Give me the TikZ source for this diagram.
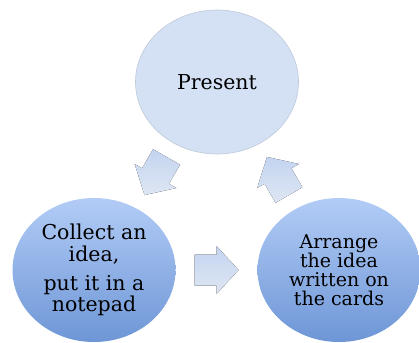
\documentclass[tikz,border=0pt]{standalone}
\usepackage{fontspec}
\setmainfont{DejaVu Serif}
\usetikzlibrary{shapes.geometric,calc}
\definecolor{pfill}{HTML}{D4E1F4}
\definecolor{pline}{HTML}{BDC9DA}
\definecolor{ctop}{HTML}{B2CCF6}
\definecolor{cbot}{HTML}{6E96D6}
\definecolor{atop}{HTML}{C4D4F0}
\definecolor{abot}{HTML}{DDE6F3}
\tikzset{flowarrow/.pic={
  \fill [top color=atop, bottom color=abot] (-22,-15.5) -- (0,-15.5) -- (0,-24) -- (22,0) -- (0,24) -- (0,15.5) -- (-22,15.5) -- cycle;
}}
\begin{document}
\begin{tikzpicture}[x=1pt,y=-1pt]
\tikzstyle{bubble}=[ellipse, minimum width=163pt, minimum height=144pt, inner sep=0pt, align=center]
\useasboundingbox (0,0) rectangle (419,342);

\node [bubble, fill=pfill, draw=pline, line width=0.6pt, font=\fontsize{20.5}{22}\selectfont] (present) at (217,82) {Present};
\node [bubble, top color=ctop, bottom color=cbot, font=\fontsize{20.5}{21.5}\selectfont] (collect) at (94,270) {Collect an\\idea,\\[7.5pt]put it in a\\notepad};
\node [bubble, top color=ctop, bottom color=cbot, font=\fontsize{19}{19}\selectfont] (arrange) at (339,270) {Arrange\\the idea\\written on\\the cards};

\pic [rotate=-120] at ($(present)!0.5!(collect)$) {flowarrow};
\pic at ($(collect)!0.5!(arrange)$) {flowarrow};
\pic [rotate=120] at ($(arrange)!0.5!(present)$) {flowarrow};
\end{tikzpicture}
\end{document}
